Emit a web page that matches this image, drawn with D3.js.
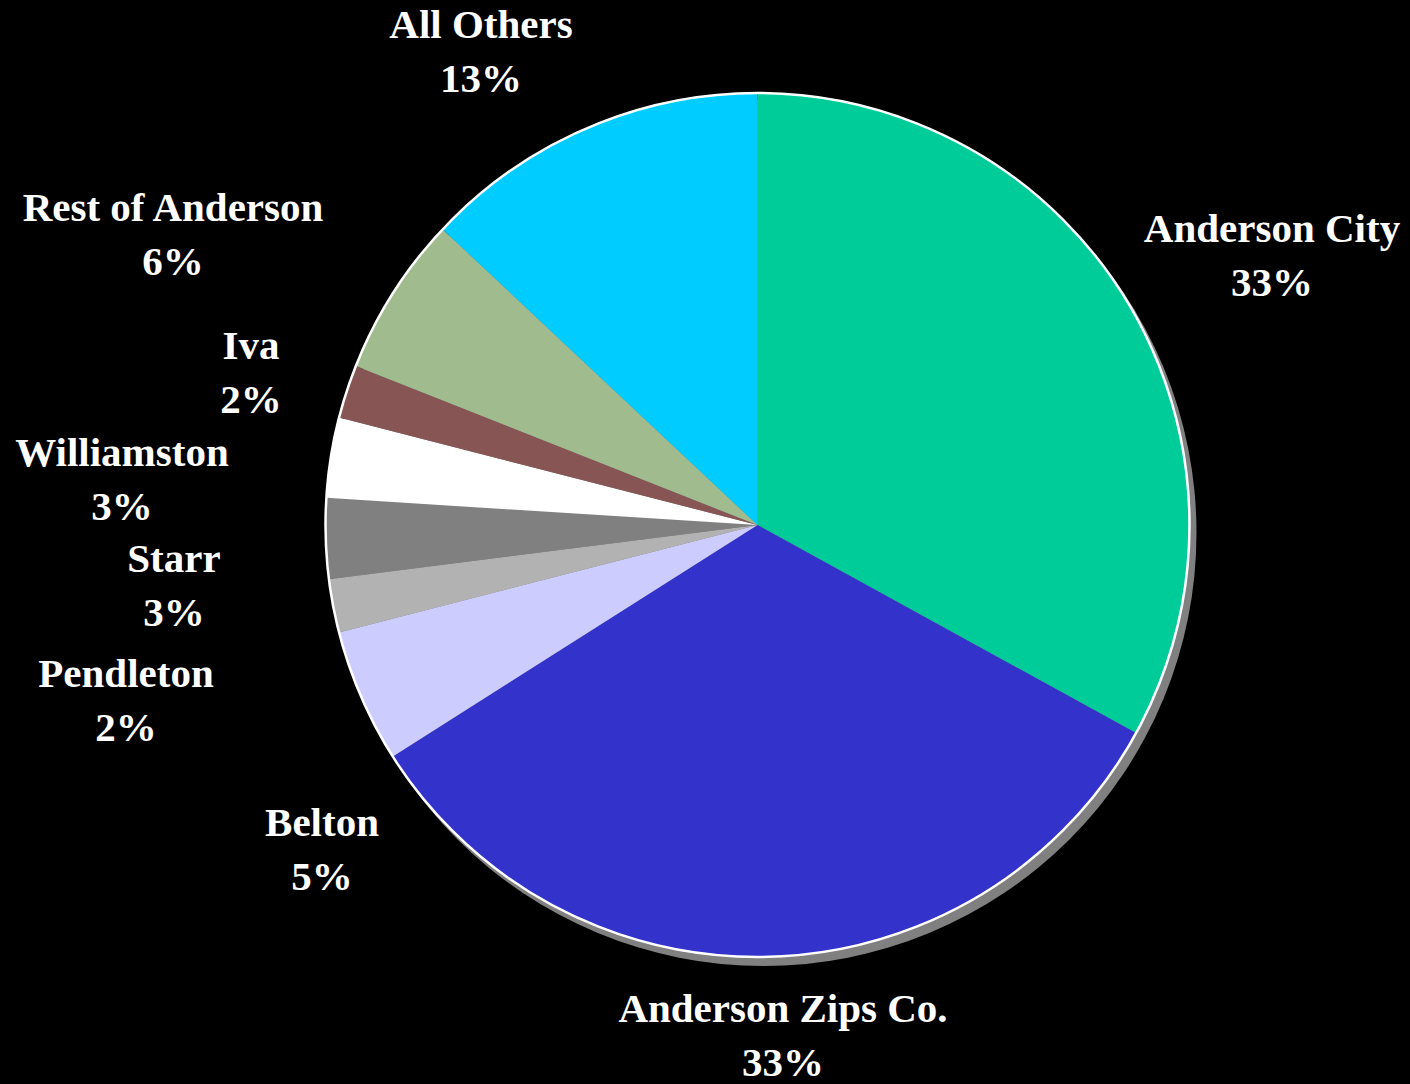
<!DOCTYPE html>
<html>
<head>
<meta charset="utf-8">
<script src="https://cdn.jsdelivr.net/npm/d3@7"></script>
<style>
  html, body { margin: 0; padding: 0; background: #000; }
  svg { display: block; }
</style>
</head>
<body>
<svg id="chart" width="1410" height="1084"></svg>
<script>
// Share of total by area, clockwise from 12 o'clock
const categories = ["Anderson City", "Anderson Zips Co.", "Belton", "Pendleton", "Starr",
                    "Williamston", "Iva", "Rest of Anderson", "All Others"];
const shares = [33, 33, 5, 2, 3, 3, 2, 6, 13];
const sliceColors = ["#00CC99", "#3333CC", "#CCCCFF", "#B2B2B2", "#808080",
                     "#FFFFFF", "#885555", "#A0BC8F", "#00CCFF"];

// Label placement: centre x and first-line baseline y for each category
const labelLayout = [
  [1272, 242], [783, 1022], [322, 836], [126, 687], [174, 572],
  [122, 466], [251, 359], [173, 221], [481, 38]
];

const width = 1410, height = 1084;
const cx = 757.5, cy = 525, radius = 432;

const svg = d3.select("#chart");
svg.append("rect").attr("width", width).attr("height", height).attr("fill", "#000");

const rows = categories.map((c, i) => ({ name: c, value: shares[i], color: sliceColors[i], pos: labelLayout[i] }));

const pie = d3.pie().value(d => d.value).sort(null);
const arc = d3.arc().innerRadius(0).outerRadius(radius);
const arcs = pie(rows);

// Drop shadow below the pie
svg.append("circle")
  .attr("cx", cx + 6).attr("cy", cy + 8).attr("r", radius + 1)
  .attr("fill", "#808080");

const g = svg.append("g").attr("transform", `translate(${cx},${cy})`);

g.selectAll("path.slice")
  .data(arcs)
  .join("path")
  .attr("class", "slice")
  .attr("d", arc)
  .attr("fill", d => d.data.color);

// White rim around the whole pie
g.append("circle")
  .attr("r", radius)
  .attr("fill", "none")
  .attr("stroke", "#FFFFFF")
  .attr("stroke-width", 2.5);

// Category labels with percentages
const fmt = d3.format(".0%");
const total = d3.sum(shares);
const labels = svg.append("g")
  .attr("font-family", "'Liberation Serif', 'Times New Roman', serif")
  .attr("font-weight", "bold")
  .attr("font-size", 41)
  .attr("fill", "#FFFFFF")
  .attr("text-anchor", "middle");

labels.selectAll("text")
  .data(arcs)
  .join("text")
  .attr("x", d => d.data.pos[0])
  .attr("y", d => d.data.pos[1])
  .call(t => {
    t.append("tspan").attr("x", d => d.data.pos[0]).text(d => d.data.name);
    t.append("tspan").attr("x", d => d.data.pos[0]).attr("dy", 54)
      .text(d => fmt(d.data.value / total));
  });
</script>
</body>
</html>
